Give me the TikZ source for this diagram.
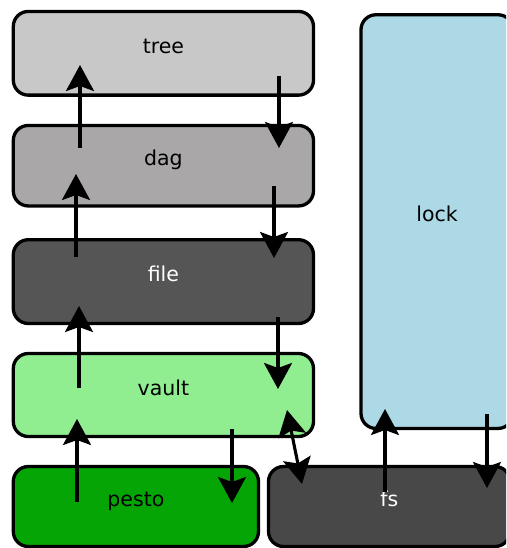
\documentclass[tikz,border=0pt]{standalone}
\usepackage{fontspec}
\setmainfont{DejaVu Sans}
\usetikzlibrary{arrows.meta}

\definecolor{treegray}{HTML}{C8C8C8}
\definecolor{daggray}{HTML}{A9A7A7}
\definecolor{filegray}{HTML}{555555}
\definecolor{vaultgreen}{HTML}{90EE90}
\definecolor{pestogreen}{HTML}{06A506}
\definecolor{fsgray}{HTML}{484848}
\definecolor{lockblue}{HTML}{ADD8E6}

\tikzset{
  layer/.style={draw=black, line width=3.3pt, rounded corners=15pt,
    inner sep=0pt, text height=0pt, text depth=0pt,
    font=\fontsize{20.5}{24}\selectfont},
  link/.style={line width=3.1pt, -{Stealth[length=26pt, width=28pt, inset=5pt]}},
  dlink/.style={line width=3.1pt, {Stealth[length=26pt, width=28pt, inset=5pt]}-{Stealth[length=26pt, width=28pt, inset=5pt]}},
}

\begin{document}
\begin{tikzpicture}[x=1pt, y=-1pt]
  \useasboundingbox (0,0) rectangle (506,548);
  \clip (0,0) rectangle (506,548);

  % stack of layers
  \node[layer, fill=treegray, minimum width=300.2pt, minimum height=83.7pt] (tree) at (163.4,53.3) {tree};
  \node[layer, fill=daggray, minimum width=300.2pt, minimum height=80.5pt] (dag) at (163.4,165.7) {dag};
  \node[layer, fill=filegray, text=white, minimum width=300.2pt, minimum height=83.8pt] (file) at (163.4,281.6) {file};
  \node[layer, fill=vaultgreen, minimum width=300.2pt, minimum height=83pt] (vault) at (163.4,395) {vault};
  \node[layer, fill=pestogreen, minimum width=245.2pt, minimum height=80pt] (pesto) at (135.9,506.5) {pesto};
  \node[layer, fill=fsgray, text=white, minimum width=241.5pt, minimum height=80pt] (fs) at (389.25,506.5) {fs};
  \node[layer, fill=lockblue, minimum width=152pt, minimum height=413.7pt] (lock) at (437,221.6) {lock};

  % arrow end points inside the layers
  \coordinate (dag-up) at (80,148);    \coordinate (tree-in) at (80,65);
  \coordinate (tree-down) at (279,76); \coordinate (dag-in) at (279,148);
  \coordinate (file-up) at (76,257);   \coordinate (dag-in2) at (76,174);
  \coordinate (dag-down) at (274,186); \coordinate (file-in) at (274,258);
  \coordinate (vault-up) at (79,388);  \coordinate (file-in2) at (79,306);
  \coordinate (file-down) at (278,317);\coordinate (vault-in) at (278,389);
  \coordinate (pesto-up) at (77,502);  \coordinate (vault-in2) at (77,419);
  \coordinate (vault-down) at (232,429);\coordinate (pesto-in) at (232,503);
  \coordinate (vault-fs) at (287,410); \coordinate (fs-vault) at (302,484);
  \coordinate (fs-up) at (385,492);    \coordinate (lock-in) at (385,409);
  \coordinate (lock-down) at (487,414);\coordinate (fs-in) at (487,488);

  % connectors
  \draw[link] (dag-up) -- (tree-in);
  \draw[link] (tree-down) -- (dag-in);
  \draw[link] (file-up) -- (dag-in2);
  \draw[link] (dag-down) -- (file-in);
  \draw[link] (vault-up) -- (file-in2);
  \draw[link] (file-down) -- (vault-in);
  \draw[link] (pesto-up) -- (vault-in2);
  \draw[link] (vault-down) -- (pesto-in);
  \draw[dlink] (vault-fs) -- (fs-vault);
  \draw[link] (fs-up) -- (lock-in);
  \draw[link] (lock-down) -- (fs-in);
\end{tikzpicture}
\end{document}
